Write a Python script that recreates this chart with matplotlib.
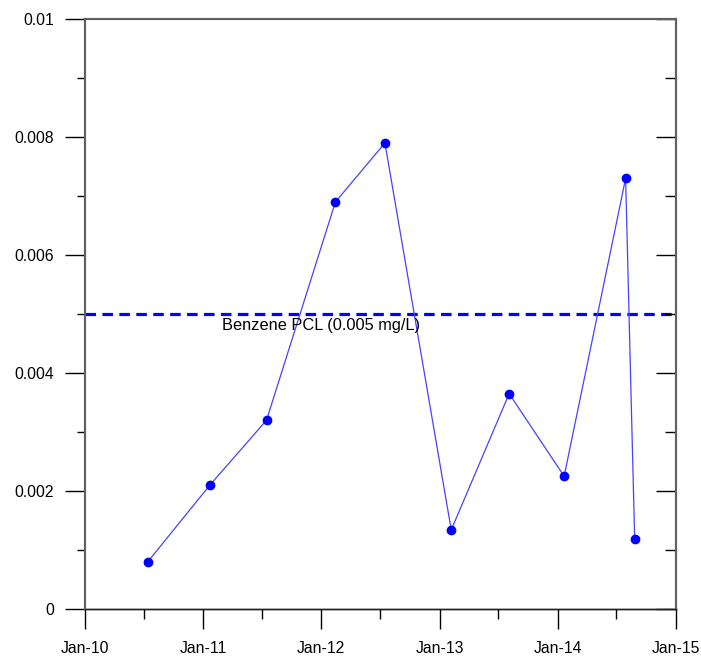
import matplotlib.pyplot as plt
import matplotlib.dates as mdates
from matplotlib.ticker import MultipleLocator
import numpy as np
import datetime as dt

# sample dates and benzene concentrations (mg/L)
sample_dates = ['2010-07-14', '2011-01-22', '2011-07-16', '2012-02-14', '2012-07-16',
                '2013-02-06', '2013-08-04', '2014-01-21', '2014-07-30', '2014-08-27']
benzene = [0.0008, 0.0021, 0.0032, 0.0069, 0.0079,
           0.00134, 0.00365, 0.00225, 0.0073, 0.00118]
pcl_value = 0.005
pcl_label = 'Benzene PCL (0.005 mg/L)'

plt.rcParams['font.family'] = ['Liberation Sans', 'DejaVu Sans']


def benzene_plot():
    dates = [dt.datetime.strptime(d, '%Y-%m-%d') for d in sample_dates]
    x0 = dt.datetime(2010, 1, 1)
    x1 = dt.datetime(2015, 1, 1)

    fig = plt.figure(figsize=(7.01, 6.58), dpi=100)
    ax = fig.add_axes([0.1213, 0.0745, 0.8427, 0.8965])

    ax.plot(dates, benzene, color='#4444ff', lw=0.9, zorder=3)
    ax.plot(dates, benzene, 'o', color='#0000ff', ms=6, mec='#0000ff', zorder=4)

    ax.plot([x0, x1], [pcl_value, pcl_value], color='#0000ff', lw=2.3,
            dashes=(3.3, 2.0), zorder=2)
    ax.text(dt.datetime(2011, 2, 28), pcl_value - 0.00006, pcl_label,
            ha='left', va='top', fontsize=11.8)

    ax.set_xlim(x0, x1)
    ax.set_ylim(0, 0.01)

    ax.xaxis.set_major_locator(mdates.YearLocator())
    ax.xaxis.set_minor_locator(mdates.MonthLocator(bymonth=7))
    ax.xaxis.set_major_formatter(mdates.DateFormatter('%b-%y'))
    ax.yaxis.set_minor_locator(MultipleLocator(0.001))
    ax.set_yticks(np.arange(0, 0.0101, 0.002))
    ax.set_yticklabels(['0', '0.002', '0.004', '0.006', '0.008', '0.01'])

    ax.tick_params(axis='both', which='major', direction='out', length=14.4,
                   width=1, labelsize=11.3, pad=8)
    ax.tick_params(axis='x', which='minor', direction='out', length=7.2, width=1)
    ax.tick_params(axis='y', which='minor', direction='out', length=6, width=1)
    ax.tick_params(axis='x', which='major', pad=9)
    ax.tick_params(top=False, right=False, which='both')

    # inward ticks on the right side
    ax2 = ax.twinx()
    ax2.set_ylim(0, 0.01)
    ax2.yaxis.set_major_locator(MultipleLocator(0.002))
    ax2.yaxis.set_minor_locator(MultipleLocator(0.001))
    ax2.tick_params(axis='y', which='major', direction='in', length=14.4,
                    width=1, labelright=False)
    ax2.tick_params(axis='y', which='minor', direction='in', length=8, width=1)

    for a in (ax, ax2):
        for side in ('left', 'top', 'right'):
            a.spines[side].set_color('#606060')
            a.spines[side].set_linewidth(1.5)
        a.spines['bottom'].set_color('#202020')
        a.spines['bottom'].set_linewidth(1.0)

    fig.savefig('out.png', dpi=100)


if __name__ == '__main__':
    benzene_plot()
